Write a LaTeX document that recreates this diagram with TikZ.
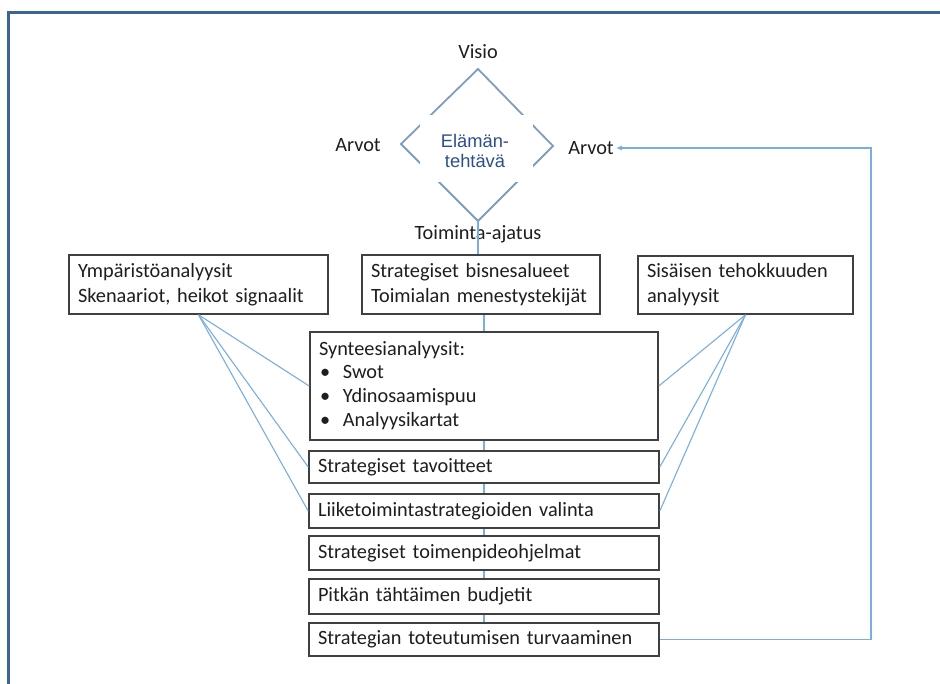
\documentclass[tikz,border=0pt]{standalone}
\usepackage{fontspec}
\setmainfont{Carlito}
\newfontfamily\arialfont{Liberation Sans}
\usetikzlibrary{arrows.meta}
\definecolor{framecol}{HTML}{3E6496}
\definecolor{diacol}{HTML}{7D9DC2}
\definecolor{linkcol}{HTML}{7AAEE0}
\definecolor{boxcol}{HTML}{404040}
\definecolor{inkcol}{HTML}{1E1E1E}
\definecolor{missioncol}{HTML}{2E4F8A}
\tikzset{
  x=1pt, y=-1pt,
  every node/.style={text=inkcol, font=\fontsize{20.3}{25}\selectfont},
  stepbox/.style={draw=boxcol, line width=1.6pt, fill=white, inner xsep=9pt, inner ysep=0pt,
    align=left, anchor=center},
  link/.style={draw=linkcol, line width=1.1pt},
  label/.style={inner sep=2pt},
  bul/.style={},
}
\newcommand{\bulletitem}[1]{\makebox[24pt][l]{\hspace{1pt}\textbullet}#1}
\begin{document}
\begin{tikzpicture}
\useasboundingbox (0,0) rectangle (940,683);
\fill[white] (0,0) rectangle (940,683);
% outer frame, running off the right and lower edges
\draw[framecol, line width=3pt] (8,700) -- (8,12.5) -- (960,12.5);

% mission diamond
\coordinate (dtop) at (478,69);
\coordinate (dright) at (553,146);
\coordinate (dbot) at (478,221);
\coordinate (dleft) at (401,144);
\draw[diacol, line width=1.8pt, line join=miter] (dtop) -- (dright) -- (dbot) -- (dleft) -- cycle;
\fill[white] (420,115) rectangle (533,182);
\node[align=center, text=missioncol, font=\arialfont\fontsize{18.3}{20.5}\selectfont] (mission) at (475,151) {Elämän-\\tehtävä};

\node[label] (visio) at (478,52) {Visio};
\node[label] (arvotL) at (358,145) {Arvot};
\node[label] (arvotR) at (591,148) {Arvot};

% analysis boxes
\node[stepbox, minimum width=259pt, minimum height=59pt, text width=241pt] (ymp) at (198.5,284.5)
  {Ympäristöanalyysit\\Skenaariot, heikot signaalit};
\node[stepbox, minimum width=238pt, minimum height=59pt, text width=220pt] (bis) at (481,284.5)
  {Strategiset bisnesalueet\\Toimialan menestystekijät};
\node[stepbox, minimum width=215pt, minimum height=58pt, text width=197pt] (sis) at (745.5,285)
  {Sisäisen tehokkuuden\\analyysit};

% link from the diamond through the business idea
\node[label] (toim) at (478,234) {Toiminta-ajatus};
\draw[link] (dbot) -- (bis.north -| dbot);

% process chain
\node[stepbox, minimum width=348pt, minimum height=108pt, text width=330pt,
  font=\fontsize{20.3}{24}\selectfont] (syn) at (484,386)
  {Synteesianalyysit:\\[-1pt]
   \bulletitem{Swot}\\
   \bulletitem{Ydinosaamispuu}\\
   \bulletitem{Analyysikartat}};
\node[stepbox, minimum width=350pt, minimum height=32pt, text width=332pt] (tav) at (484,467) {Strategiset tavoitteet};
\node[stepbox, minimum width=350pt, minimum height=34pt, text width=332pt] (lii) at (484,511) {Liiketoimintastrategioiden valinta};
\node[stepbox, minimum width=350pt, minimum height=34pt, text width=332pt] (toi) at (484,553) {Strategiset toimenpideohjelmat};
\node[stepbox, minimum width=350pt, minimum height=35pt, text width=332pt] (pit) at (484,596.5) {Pitkän tähtäimen budjetit};
\node[stepbox, minimum width=350pt, minimum height=33pt, text width=332pt] (str) at (484,639.5) {Strategian toteutumisen turvaaminen};

% vertical links along the chain
\draw[link] (bis.south -| syn.north) -- (syn.north);
\draw[link] (syn.south) -- (tav.north);
\draw[link] (tav.south) -- (lii.north);
\draw[link] (lii.south) -- (toi.north);
\draw[link] (toi.south) -- (pit.north);
\draw[link] (pit.south) -- (str.north);

% fans from the analysis boxes
\foreach \t in {syn, tav, lii} {
  \draw[link] (ymp.south) -- (\t.west);
  \draw[link] (sis.south) -- (\t.east);
}

% feedback loop back to the values
\coordinate (fb) at (871,148);
\draw[link, -{Latex[length=6pt, width=5pt]}] (str.east) -| (fb) -- (arvotR.east);
\end{tikzpicture}
\end{document}
